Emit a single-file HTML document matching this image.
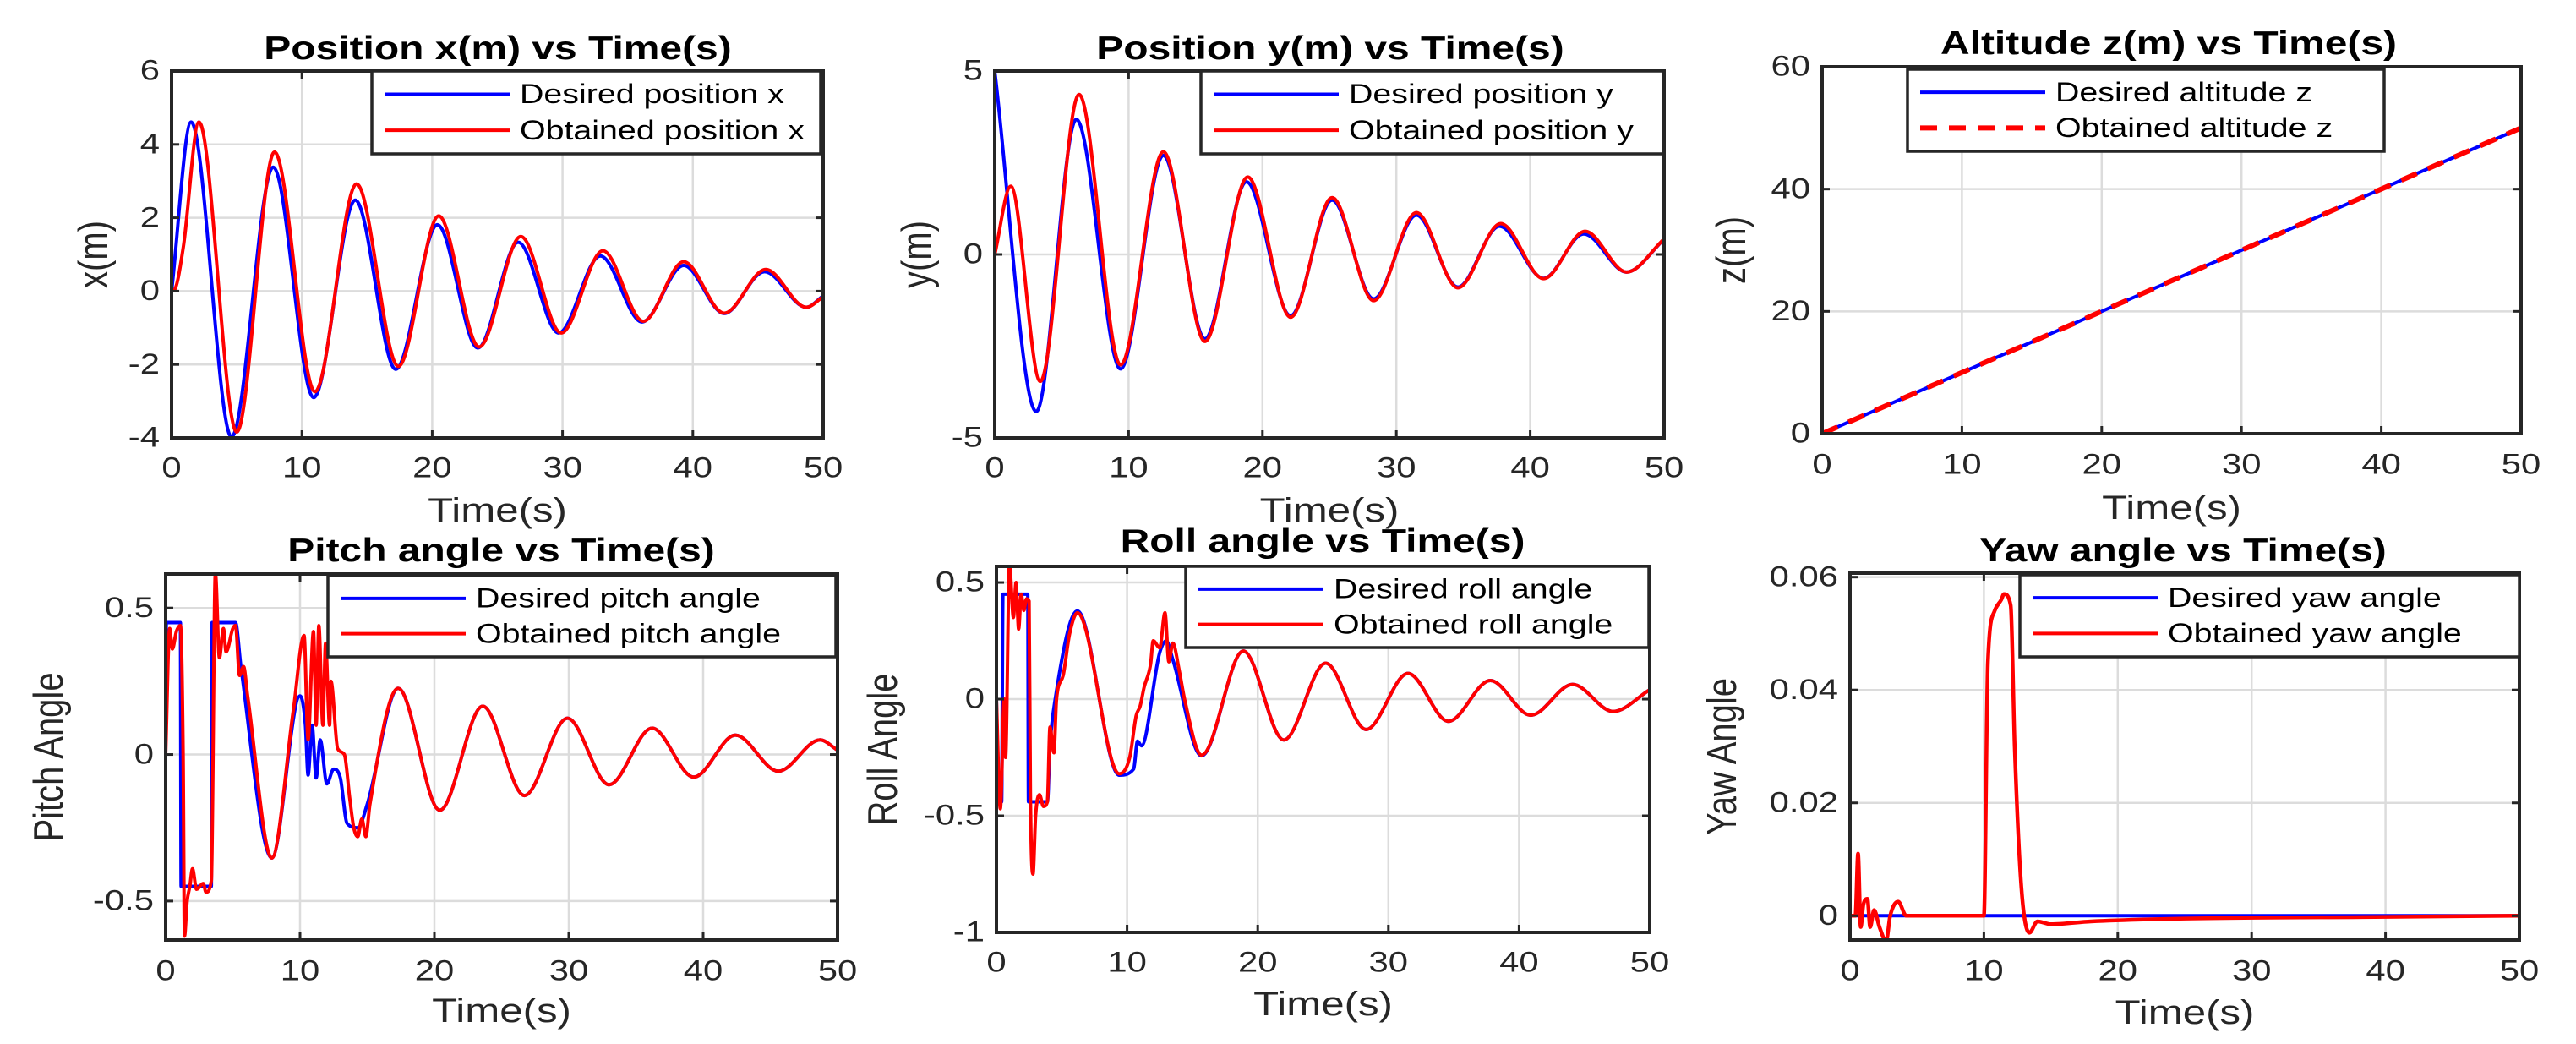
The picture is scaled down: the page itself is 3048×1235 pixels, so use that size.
<!DOCTYPE html>
<html><head><meta charset="utf-8"><style>
html,body{margin:0;padding:0;background:#fff;}
svg{display:block;}
text{font-family:"Liberation Sans",Arial,sans-serif;}
</style></head>
<body>
<svg id="fig" width="3048" height="1235" viewBox="0 0 3048 1235" xmlns="http://www.w3.org/2000/svg"></svg>
<script>
// ---------- DATA ----------
const xTicks = [0,10,20,30,40,50];
// Panel 1: position x
const px_des_t = [0,1.5,4.6,7.8,10.9,14.1,17.2,20.4,23.5,26.6,29.7,32.9,36.1,39.3,42.4,45.5,48.7,50];
const px_des_v = [0,4.61,-3.97,3.38,-2.9,2.48,-2.13,1.81,-1.55,1.33,-1.14,0.96,-0.84,0.70,-0.61,0.53,-0.44,-0.13];
const px_obt_t = [0,0.25,0.9,2.1,5.0,7.9,11.0,14.2,17.4,20.5,23.6,26.8,29.9,33.1,36.2,39.3,42.4,45.6,48.7,50];
const px_obt_v = [0,0.05,1.2,4.61,-3.84,3.79,-2.74,2.92,-2.05,2.05,-1.52,1.49,-1.14,1.1,-0.82,0.8,-0.6,0.59,-0.44,-0.15];
// Panel 2: position y
const py_des_t = [0,3.1,6.1,9.4,12.6,15.7,18.8,22.1,25.2,28.3,31.5,34.6,37.7,41.0,44.0,47.2,50];
const py_des_v = [5,-4.28,3.68,-3.12,2.7,-2.3,1.98,-1.67,1.48,-1.21,1.07,-0.89,0.77,-0.65,0.56,-0.48,0.41];
const py_obt_t = [0,1.2,3.4,6.3,9.4,12.6,15.7,18.9,22.1,25.2,28.3,31.5,34.6,37.8,41.0,44.1,47.2,50];
const py_obt_v = [0,1.86,-3.46,4.36,-3.01,2.8,-2.37,2.11,-1.71,1.55,-1.26,1.14,-0.91,0.84,-0.66,0.63,-0.48,0.42];
// Panel 3: altitude z
const pz_des_t = [0,50];
const pz_des_v = [0,50];
const pz_obt_t = [0,50];
const pz_obt_v = [0,50];
// Panel 4: pitch
const pp_des_t = [0,0.05,1.1,1.15,3.4,3.45,5.2,5.6,7.9,10.0,10.4,10.6,10.9,11.2,11.5,12.0,12.5,13.0,13.5,14.3,15.0,17.3,20.4,23.6,26.7,29.9,33.0,36.2,39.3,42.4,45.6,48.7,50];
const pp_des_v = [0,0.45,0.45,-0.45,-0.45,0.45,0.45,0.3,-0.353,0.2,0.1,-0.07,0.1,-0.08,0.05,-0.1,-0.05,-0.08,-0.235,-0.25,-0.17,0.226,-0.19,0.165,-0.14,0.124,-0.103,0.09,-0.077,0.066,-0.057,0.05,0.015];
const pp_obt_t = [0,0.3,0.5,0.8,1.1,1.3,1.4,1.6,1.8,2.0,2.3,2.8,3.0,3.4,3.7,4.0,4.3,4.5,5.0,5.2,5.5,5.8,6.1,7.9,9.5,10.3,10.6,11.0,11.2,11.4,11.7,11.9,12.2,12.3,12.8,13.3,13.7,14.0,14.3,14.6,14.9,15.2,17.3,20.4,23.6,26.7,29.9,33.0,36.2,39.3,42.4,45.6,48.7,50];
const pp_obt_v = [0,0.43,0.36,0.42,0.44,0.0,-0.62,-0.5,-0.45,-0.39,-0.46,-0.44,-0.47,-0.43,0.62,0.33,0.43,0.35,0.43,0.44,0.27,0.3,0.2,-0.353,0.15,0.406,0.05,0.42,0.1,0.44,0.1,0.38,0.1,0.25,0.02,0.0,-0.15,-0.25,-0.28,-0.22,-0.28,-0.17,0.226,-0.19,0.165,-0.14,0.124,-0.103,0.09,-0.077,0.066,-0.057,0.05,0.015];
// Panel 5: roll
const pr_des_t = [0,0.15,0.4,0.5,2.4,2.45,3.9,4.1,4.5,6.2,9.4,10.5,10.8,11.1,12.5,13.0,13.5,15.7,18.9,22.0,25.2,28.3,31.5,34.6,37.8,40.9,44.1,47.2,50];
const pr_des_v = [0,-0.44,-0.44,0.45,0.45,-0.44,-0.44,-0.2,0.0,0.378,-0.326,-0.3,-0.18,-0.2,0.2,0.25,0.17,-0.243,0.206,-0.175,0.154,-0.13,0.11,-0.095,0.08,-0.069,0.063,-0.053,0.04];
const pr_obt_t = [0,0.3,0.6,0.7,1.0,1.3,1.5,1.7,1.9,2.1,2.3,2.5,2.6,2.8,3.0,3.3,3.6,3.9,4.1,4.4,4.6,5.1,5.6,6.2,9.4,10.2,10.7,11.0,11.3,11.8,12.0,12.5,12.9,13.2,13.5,14.0,14.4,15.7,18.9,22.0,25.2,28.3,31.5,34.6,37.8,40.9,44.1,47.2,50];
const pr_obt_v = [0,-0.47,0.0,-0.25,0.58,0.35,0.5,0.3,0.45,0.38,0.43,0.42,-0.4,-0.75,-0.5,-0.41,-0.46,-0.44,-0.12,-0.23,0.0,0.1,0.28,0.37,-0.32,-0.25,-0.07,-0.03,0.05,0.15,0.25,0.22,0.37,0.16,0.24,0.12,0.0,-0.24,0.206,-0.175,0.154,-0.13,0.11,-0.095,0.08,-0.069,0.063,-0.053,0.04];
// Panel 6: yaw
const pw_des_t = [0,50];
const pw_des_v = [0,0];
const pw_obt_t = [0,0.4,0.6,0.8,1.0,1.3,1.5,1.8,2.2,2.7,3.0,3.6,4.2,10.0,10.3,10.8,11.3,11.5,12.0,12.3,12.8,13.4,14.0,15.0,18.0,25.0,40.0,50];
const pw_obt_v = [0,0.0,0.011,-0.002,0.002,0.003,-0.002,0.001,-0.002,-0.0045,0.0,0.0025,0.0,0.0,0.045,0.054,0.056,0.057,0.055,0.03,0.005,-0.003,-0.001,-0.0015,-0.001,-0.0005,-0.0002,0];

// ---------- LAYOUT ----------
const panels = [
 {name:'position-x', L:203,R:974,T:84,B:518, ymin:-4,ymax:6, yt:[-4,-2,0,2,4,6], ytl:['-4','-2','0','2','4','6'],
  title:'Position x(m) vs Time(s)', tx:589, ty:57, ylab:'x(m)', ylx:110, xly:603, xty:554,
  leg:[440,84,971,182], labels:['Desired position x','Obtained position x'],
  series:[[px_des_t,px_des_v,'#0000ff',false],[px_obt_t,px_obt_v,'#ff0000',false]]},
 {name:'position-y', L:1177,R:1969,T:84,B:518, ymin:-5,ymax:5, yt:[-5,0,5], ytl:['-5','0','5'],
  title:'Position y(m) vs Time(s)', tx:1574, ty:57, ylab:'y(m)', ylx:1084, xly:603, xty:554,
  leg:[1421,84,1968,182], labels:['Desired position y','Obtained position y'],
  series:[[py_des_t,py_des_v,'#0000ff',false],[py_obt_t,py_obt_v,'#ff0000',false]]},
 {name:'altitude-z', L:2156,R:2983,T:79,B:513, ymin:0,ymax:60, yt:[0,20,40,60], ytl:['0','20','40','60'],
  title:'Altitude z(m) vs Time(s)', tx:2566, ty:51, ylab:'z(m)', ylx:2048, xly:600, xty:550,
  leg:[2257,82,2821,179], labels:['Desired altitude z','Obtained altitude z'],
  series:[[pz_des_t,pz_des_v,'#0000ff',false],[pz_obt_t,pz_obt_v,'#ff0000',true]]},
 {name:'pitch-angle', L:196,R:991,T:679,B:1112, ymin:-0.633,ymax:0.616, yt:[-0.5,0,0.5], ytl:['-0.5','0','0.5'],
  title:'Pitch angle vs Time(s)', tx:593, ty:651, ylab:'Pitch Angle', ylx:57, xly:1195, xty:1149,
  leg:[388,681,989,777], labels:['Desired pitch angle','Obtained pitch angle'],
  series:[[pp_des_t,pp_des_v,'#0000ff',false],[pp_obt_t,pp_obt_v,'#ff0000',false]]},
 {name:'roll-angle', L:1179,R:1952,T:670,B:1103, ymin:-1,ymax:0.569, yt:[-1,-0.5,0,0.5], ytl:['-1','-0.5','0','0.5'],
  title:'Roll angle vs Time(s)', tx:1565, ty:640, ylab:'Roll Angle', ylx:1044, xly:1187, xty:1139,
  leg:[1403,670,1951,766], labels:['Desired roll angle','Obtained roll angle'],
  series:[[pr_des_t,pr_des_v,'#0000ff',false],[pr_obt_t,pr_obt_v,'#ff0000',false]]},
 {name:'yaw-angle', L:2189,R:2981,T:678,B:1112, ymin:-0.0043,ymax:0.0607, yt:[0,0.02,0.04,0.06], ytl:['0','0.02','0.04','0.06'],
  title:'Yaw angle vs Time(s)', tx:2583, ty:651, ylab:'Yaw Angle', ylx:2037, xly:1197, xty:1149,
  leg:[2390,680,2981,777], labels:['Desired yaw angle','Obtained yaw angle'],
  series:[[pw_des_t,pw_des_v,'#0000ff',false],[pw_obt_t,pw_obt_v,'#ff0000',false]]}
];

const SX = 1.23; // horizontal text stretch of reference
const NS='http://www.w3.org/2000/svg';
const svg=document.getElementById('fig');
function mk(tag, attrs, parent){
  const e=document.createElementNS(NS,tag);
  for(const k in attrs) e.setAttribute(k,attrs[k]);
  (parent||svg).appendChild(e);
  return e;
}
function stext(x, y, attrs, parent){
  attrs.x=0; attrs.y=0;
  attrs.transform='translate('+x+' '+y+') scale('+SX+' 1)';
  return mk('text', attrs, parent);
}
function monoPath(ts, vs, sx, sy){
  const n=ts.length;
  if(n<2) return '';
  const d=[], m=new Array(n);
  for(let i=0;i<n-1;i++) d.push((vs[i+1]-vs[i])/(ts[i+1]-ts[i]));
  m[0]=d[0]; m[n-1]=d[n-2];
  for(let i=1;i<n-1;i++){
    if(d[i-1]*d[i]<=0) m[i]=0;
    else { m[i]=(d[i-1]+d[i])/2; }
  }
  for(let i=0;i<n-1;i++){
    if(d[i]===0){ m[i]=0; m[i+1]=0; continue; }
    const a=m[i]/d[i], b=m[i+1]/d[i], s=a*a+b*b;
    if(s>9){ const tau=3/Math.sqrt(s); m[i]=tau*a*d[i]; m[i+1]=tau*b*d[i]; }
  }
  let p='M'+sx(ts[0]).toFixed(2)+','+sy(vs[0]).toFixed(2);
  for(let i=0;i<n-1;i++){
    const h=ts[i+1]-ts[i];
    const c1t=ts[i]+h/3, c1v=vs[i]+m[i]*h/3;
    const c2t=ts[i+1]-h/3, c2v=vs[i+1]-m[i+1]*h/3;
    p+=' C'+sx(c1t).toFixed(2)+','+sy(c1v).toFixed(2)+' '+sx(c2t).toFixed(2)+','+sy(c2v).toFixed(2)+' '+sx(ts[i+1]).toFixed(2)+','+sy(vs[i+1]).toFixed(2);
  }
  return p;
}

panels.forEach(P=>{
  const g=mk('g',{});
  
  
  const sx=t=>P.L+(t-0)/(50-0)*(P.R-P.L);
  const sy=v=>P.B-(v-P.ymin)/(P.ymax-P.ymin)*(P.B-P.T);
  const clipId='clip-'+P.name;
  const cp=mk('clipPath',{id:clipId},g);
  mk('rect',{x:P.L,y:P.T,width:P.R-P.L,height:P.B-P.T},cp);
  // grid
  xTicks.forEach(t=>{
    const l=mk('line',{x1:sx(t),x2:sx(t),y1:P.T,y2:P.B,stroke:'#dcdcdc','stroke-width':2.5},g);
    
    
  });
  P.yt.forEach(v=>{
    const l=mk('line',{x1:P.L,x2:P.R,y1:sy(v),y2:sy(v),stroke:'#dcdcdc','stroke-width':2.5},g);
    
    
  });
  // series
  P.series.forEach((s,i)=>{
    const path=mk('path',{d:monoPath(s[0],s[1],sx,sy),fill:'none',stroke:s[2],'stroke-width':i===1&&P.name==='yaw-angle'?4.5:4,'stroke-linejoin':'round','clip-path':'url(#'+clipId+')'},g);
    if(s[3]){ path.setAttribute('stroke-dasharray','20 14'); path.setAttribute('stroke-width','6'); }
    
    
  });
  // axes box
  const box=mk('rect',{x:P.L,y:P.T,width:P.R-P.L,height:P.B-P.T,fill:'none',stroke:'#262626','stroke-width':4},g);
  
  
  // ticks + labels
  xTicks.forEach(t=>{
    mk('line',{x1:sx(t),x2:sx(t),y1:P.B,y2:P.B-9,stroke:'#262626','stroke-width':3},g);
    mk('line',{x1:sx(t),x2:sx(t),y1:P.T,y2:P.T+9,stroke:'#262626','stroke-width':3},g);
    const tx=stext(sx(t),P.xty,{'text-anchor':'middle','dominant-baseline':'central','font-size':34,fill:'#262626'},g);
    tx.textContent=String(t);
    
    
  });
  P.yt.forEach((v,i)=>{
    mk('line',{x1:P.L,x2:P.L+9,y1:sy(v),y2:sy(v),stroke:'#262626','stroke-width':3},g);
    mk('line',{x1:P.R,x2:P.R-9,y1:sy(v),y2:sy(v),stroke:'#262626','stroke-width':3},g);
    const tx=stext(P.L-14,sy(v),{'text-anchor':'end','dominant-baseline':'central','font-size':34,fill:'#262626'},g);
    tx.textContent=P.ytl[i];
    
    
  });
  // title
  const ti=stext(P.tx,P.ty,{'text-anchor':'middle','dominant-baseline':'central','font-size':39,'font-weight':'bold',fill:'#000'},g);
  ti.textContent=P.title;
  
  
  // x label
  const xl=stext((P.L+P.R)/2,P.xly,{'text-anchor':'middle','dominant-baseline':'central','font-size':40,fill:'#262626'},g);
  xl.textContent='Time(s)';
  
  
  // y label
  const cy=(P.T+P.B)/2;
  const yl=mk('text',{x:0,y:0,'text-anchor':'middle','dominant-baseline':'central','font-size':40,fill:'#262626',transform:'translate('+P.ylx+' '+cy+') rotate(-90) scale(1 '+SX+')'},g);
  yl.textContent=P.ylab;
  
  
  // legend
  const [lx0,ly0,lx1,ly1]=P.leg;
  const lg=mk('g',{},g);
  
  
  mk('rect',{x:lx0,y:ly0,width:lx1-lx0,height:ly1-ly0,fill:'#fff',stroke:'#262626','stroke-width':3.5},lg);
  const h=ly1-ly0;
  [0,1].forEach(i=>{
    const yy=ly0+h*(i===0?0.28:0.715);
    const s=P.series[i];
    const ln=mk('line',{x1:lx0+15,x2:lx0+163,y1:yy,y2:yy,stroke:s[2],'stroke-width':s[3]?6:4},lg);
    if(s[3]) ln.setAttribute('stroke-dasharray','20 14');
    const lt=stext(lx0+175,yy,{'dominant-baseline':'central','font-size':32,fill:'#000'},lg);
    lt.textContent=P.labels[i];
    
    
  });
});
</script>
</body></html>
